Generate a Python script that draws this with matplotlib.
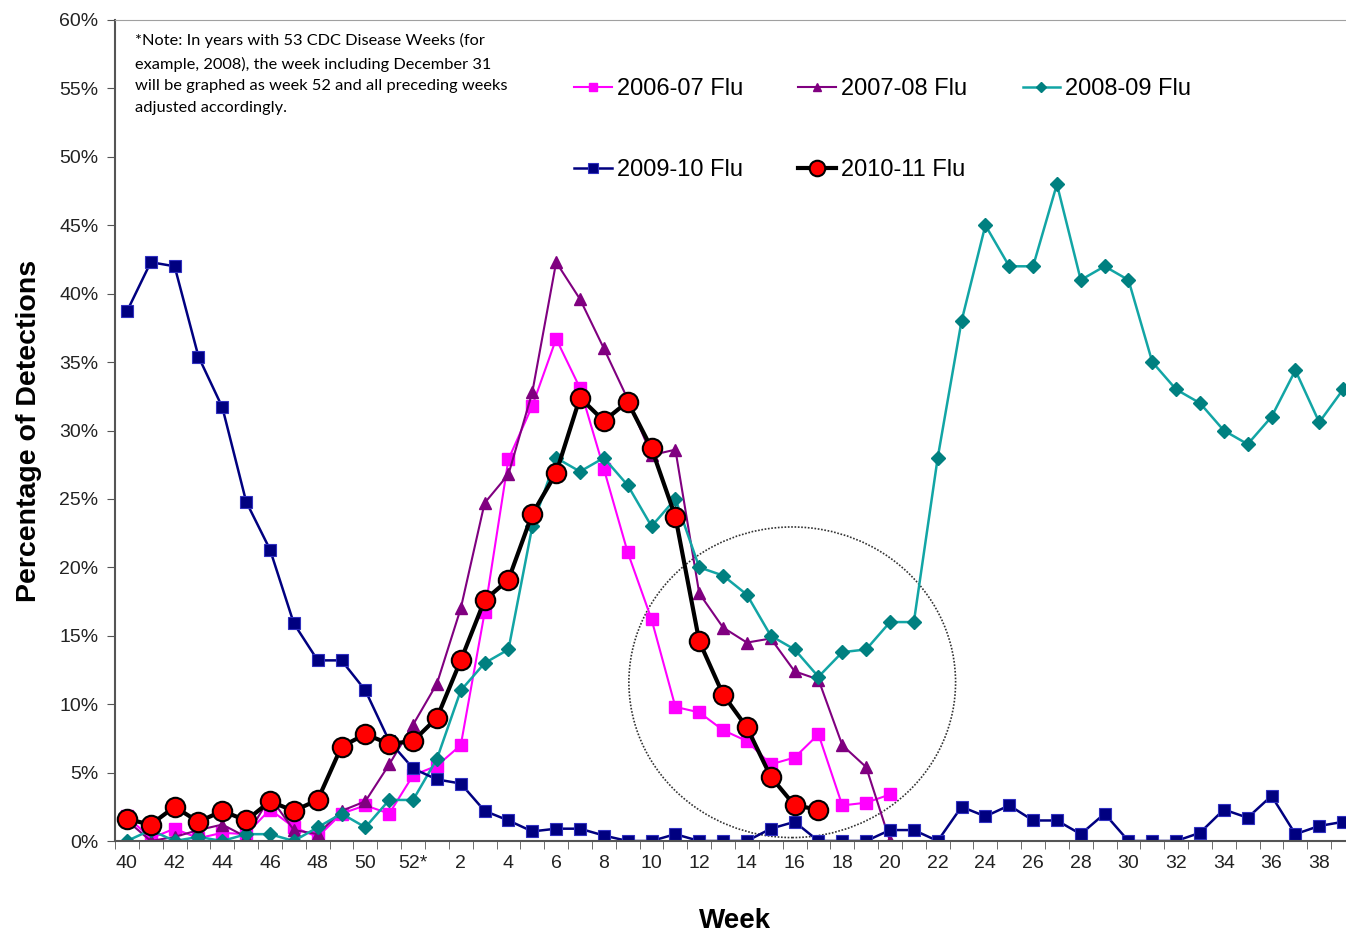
import matplotlib.pyplot as plt
from matplotlib.patches import Ellipse
import numpy as np

plt.rcParams['font.family'] = ['Liberation Sans', 'DejaVu Sans']

# weeks 40..52 then 1..39
weeks = list(range(40, 53)) + list(range(1, 40))
week_labels = [str(w) if w != 52 else "52*" for w in weeks]

flu_0607 = [1.8, 0.2, 0.9, 0.2, 0.6, 0.5, 2.3, 1.0, 0.3, 2.0, 2.6, 2.0, 4.8, 5.5, 7.0,
            16.7, 27.9, 31.8, 36.7, 33.1, 27.2, 21.1, 16.2, 9.8, 9.4, 8.1, 7.3, 5.6,
            6.1, 7.8, 2.6, 2.8, 3.4]
flu_0708 = [1.5, 0.0, 0.3, 0.8, 1.2, 0.3, 3.2, 0.8, 0.5, 2.2, 2.9, 5.6, 8.5, 11.5, 17.0,
            24.7, 26.8, 32.8, 42.3, 39.6, 36.0, 32.3, 28.2, 28.6, 18.1, 15.6, 14.5,
            14.8, 12.4, 11.8, 7.0, 5.4, 0.0]
flu_0809 = [0.0, 0.8, 0.0, 0.3, 0.0, 0.5, 0.5, 0.0, 1.0, 2.0, 1.0, 3.0, 3.0, 6.0, 11.0,
            13.0, 14.0, 23.0, 28.0, 27.0, 28.0, 26.0, 23.0, 25.0, 20.0, 19.4, 18.0,
            15.0, 14.0, 12.0, 13.8, 14.0, 16.0, 16.0, 28.0, 38.0, 45.0, 42.0, 42.0,
            48.0, 41.0, 42.0, 41.0, 35.0, 33.0, 32.0, 30.0, 29.0, 31.0, 34.4, 30.6, 33.0]
flu_0910 = [38.7, 42.3, 42.0, 35.4, 31.7, 24.8, 21.3, 15.9, 13.2, 13.2, 11.0, 7.3, 5.3,
            4.5, 4.2, 2.2, 1.5, 0.7, 0.9, 0.9, 0.4, 0.0, 0.0, 0.5, 0.0, 0.0, 0.0, 0.9,
            1.4, 0.0, 0.0, 0.0, 0.8, 0.8, 0.0, 2.5, 1.8, 2.6, 1.5, 1.5, 0.5, 2.0, 0.0,
            0.0, 0.0, 0.6, 2.3, 1.7, 3.3, 0.5, 1.1, 1.4]
flu_1011 = [1.6, 1.2, 2.5, 1.4, 2.2, 1.5, 2.9, 2.2, 3.0, 6.9, 7.8, 7.1, 7.3, 9.0, 13.2,
            17.6, 19.1, 23.9, 26.9, 32.4, 30.7, 32.1, 28.7, 23.7, 14.6, 10.7, 8.3, 4.7,
            2.6, 2.3]

note = ("*Note: In years with 53 CDC Disease Weeks (for\n"
        "example, 2008), the week including December 31\n"
        "will be graphed as week 52 and all preceding weeks\n"
        "adjusted accordingly.")

fig = plt.figure(figsize=(13.46, 9.32), dpi=100)
ax = fig.add_axes([115 / 1346, 91 / 932, 1240 / 1346, 821 / 932])

x = np.arange(len(weeks))

l1, = ax.plot(x[:len(flu_0607)], flu_0607, color='#FF00FF', lw=1.5, marker='s', ms=8,
              label='2006-07 Flu')
l2, = ax.plot(x[:len(flu_0708)], flu_0708, color='#800080', lw=1.5, marker='^', ms=8,
              label='2007-08 Flu')
l3, = ax.plot(x[:len(flu_0809)], flu_0809, color='#12A5A5', lw=1.8, marker='D', ms=7,
              mfc='#008080', mec='#008080', label='2008-09 Flu')
l4, = ax.plot(x[:len(flu_0910)], flu_0910, color='#000080', lw=1.8, marker='s', ms=9,
              mec='#3030C0', mew=0.8, label='2009-10 Flu')
l5, = ax.plot(x[:len(flu_1011)], flu_1011, color='black', lw=3, marker='o', ms=14,
              mfc='#FF0000', mec='black', mew=1.5, label='2010-11 Flu')

# dotted circle highlight
ax.add_patch(Ellipse((27.9, 11.6), 13.7, 22.7, fill=False, ls=(0, (1, 1)),
                     lw=1.2, ec='#333333', zorder=1))

ax.set_xlim(-0.5, 51.5)
ax.set_ylim(0, 60)
ax.set_yticks(range(0, 61, 5))
ax.set_yticklabels([f"{v}%" for v in range(0, 61, 5)], fontsize=14, color='#222222')
ax.set_xticks(x[::2])
ax.set_xticklabels(week_labels[::2], fontsize=14, color='#222222')
ax.set_xticks(np.arange(-0.5, 52, 1), minor=True)
ax.tick_params(axis='x', which='major', length=0, pad=10)
ax.tick_params(axis='x', which='minor', length=6, direction='out', color='#555555')
ax.tick_params(axis='y', length=6, direction='out', color='#555555', pad=6)

ax.spines['right'].set_visible(False)
ax.spines['top'].set_color('#A0A0A0')
ax.spines['left'].set_color('#555555')
ax.spines['bottom'].set_color('#555555')
ax.spines['left'].set_linewidth(1.5)
ax.spines['bottom'].set_linewidth(1.5)

ax.set_ylabel('Percentage of Detections', fontsize=20.5, fontweight='bold', labelpad=12)
ax.set_xlabel('Week', fontsize=20, fontweight='bold', labelpad=26)

ax.text(0.016, 0.984, note, transform=ax.transAxes, va='top', ha='left',
        fontsize=11.8, family=['Lato', 'DejaVu Sans'], linespacing=1.7)

handles = [l1, l4, l2, l5, l3]
ax.legend(handles=handles, labels=[h.get_label() for h in handles], ncol=3,
          loc='upper left', bbox_to_anchor=(438 / 1240, 0.955), frameon=False,
          fontsize=17, handlelength=1.6, handletextpad=0.2, columnspacing=2.35,
          labelspacing=2.5, markerscale=0.8)

fig.savefig('out.png', dpi=100)
